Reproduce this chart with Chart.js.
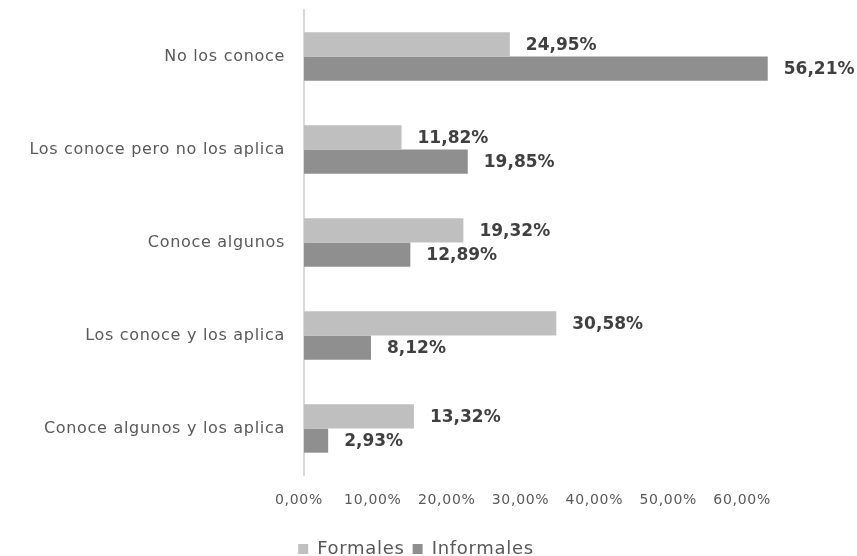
<!DOCTYPE html>
<html>
<head>
<meta charset="utf-8">
<script src="https://cdn.jsdelivr.net/npm/chart.js@4/dist/chart.umd.min.js"></script>
<style>
  html, body { margin: 0; padding: 0; background: #fff; }
  #wrap { width: 857px; height: 556px; }
</style>
</head>
<body>
<div id="wrap"><canvas id="myChart"></canvas></div>
<script>
// categorías y valores (%)
const categories = [
    'No los conoce',
    'Los conoce pero no los aplica',
    'Conoce algunos',
    'Los conoce y los aplica',
    'Conoce algunos y los aplica'
];
const formales = [24.95, 11.82, 19.32, 30.58, 13.32];
const informales = [56.21, 19.85, 12.89, 8.12, 2.93];
const tickValues = [0, 10, 20, 30, 40, 50, 60];

const FONT = '"DejaVu Sans", sans-serif';
const SPACING = '0.7px';

function pct(v) {
    return v.toFixed(2).replace('.', ',') + '%';
}

// espaciado de letras para todo el texto del gráfico
const tracking = {
    id: 'tracking',
    beforeUpdate(chart) { chart.ctx.letterSpacing = SPACING; },
    beforeDraw(chart) { chart.ctx.letterSpacing = SPACING; }
};

// etiquetas de valor al final de cada barra
const valueLabels = {
    id: 'valueLabels',
    afterDatasetsDraw(chart) {
        const c = chart.ctx;
        c.save();
        c.letterSpacing = '0px';
        c.font = 'bold 17px ' + FONT;
        c.fillStyle = '#404040';
        c.textAlign = 'left';
        c.textBaseline = 'middle';
        chart.data.datasets.forEach((ds, i) => {
            chart.getDatasetMeta(i).data.forEach((bar, j) => {
                c.fillText(pct(ds.data[j]), bar.x + 16, bar.y + 1);
            });
        });
        c.restore();
    }
};

var ctx = document.getElementById('myChart').getContext('2d');
var myChart = new Chart(ctx, {
    type: 'bar',
    data: {
        labels: categories,
        datasets: [
            {
                label: 'Formales',
                data: formales,
                backgroundColor: '#bfbfbf',
                categoryPercentage: 0.52,
                barPercentage: 1
            },
            {
                label: 'Informales',
                data: informales,
                backgroundColor: '#8f8f8f',
                categoryPercentage: 0.52,
                barPercentage: 1
            }
        ]
    },
    options: {
        indexAxis: 'y',
        responsive: true,
        maintainAspectRatio: false,
        animation: false,
        layout: { padding: { top: 10, right: 25, bottom: -12, left: 0 } },
        scales: {
            x: {
                display: false,
                min: 0,
                max: 60
            },
            // eje solo para las etiquetas de abajo
            xl: {
                type: 'linear',
                position: 'bottom',
                min: 0.68,
                max: 67.7,
                afterBuildTicks: (axis) => {
                    axis.ticks = tickValues.map(v => ({ value: v }));
                },
                afterFit: (axis) => {
                    axis.height = 57;
                    axis.paddingRight = 58;
                },
                grid: { display: false },
                border: { display: false },
                ticks: {
                    color: '#595959',
                    font: { family: FONT, size: 14 },
                    padding: 9,
                    maxRotation: 0,
                    autoSkip: false,
                    callback: (v) => pct(v)
                }
            },
            y: {
                grid: { display: false },
                border: { color: '#d9d9d9', width: 2 },
                afterFit: (axis) => {
                    axis.width = 304;
                    axis.paddingTop = 0;
                    axis.paddingBottom = 0;
                },
                ticks: {
                    color: '#595959',
                    font: { family: FONT, size: 16 },
                    padding: 11
                }
            }
        },
        plugins: {
            legend: {
                position: 'bottom',
                labels: {
                    color: '#595959',
                    font: { family: FONT, size: 18 },
                    boxWidth: 10,
                    boxHeight: 10,
                    padding: 8
                }
            },
            tooltip: { enabled: false }
        }
    },
    plugins: [tracking, valueLabels]
});
</script>
</body>
</html>
